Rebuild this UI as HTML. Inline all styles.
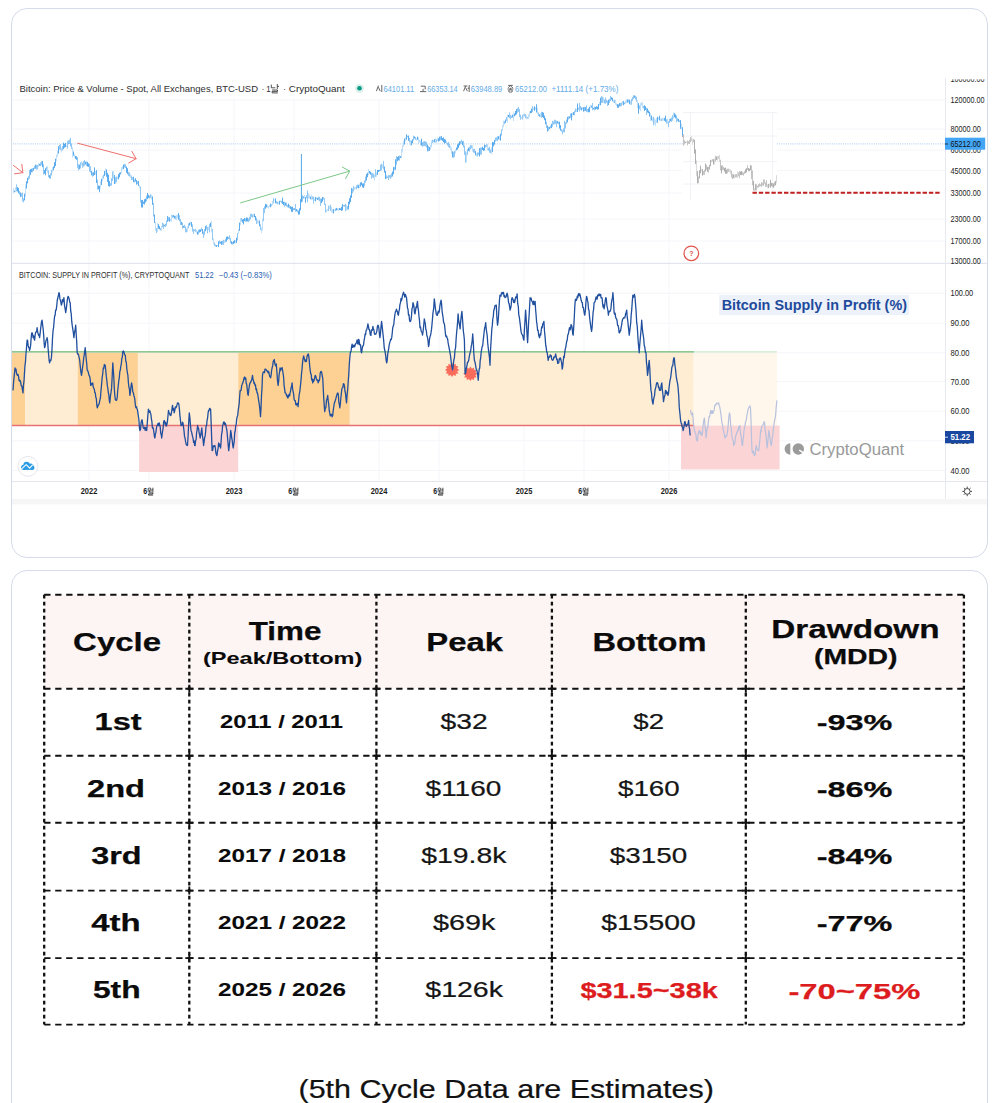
<!DOCTYPE html>
<html><head><meta charset="utf-8"><title>Bitcoin cycle</title>
<style>
html,body{margin:0;padding:0;background:#fff;}
body{width:997px;height:1103px;position:relative;overflow:hidden;font-family:"Liberation Sans",sans-serif;}
.card{position:absolute;left:11px;width:975px;border:1px solid #d5dbe8;border-radius:16px;background:#fff;box-sizing:content-box;}
#c1{top:8px;height:548px;}
#c2{top:570px;height:560px;}
svg{position:absolute;left:0;top:0;}
</style></head><body>
<div class="card" id="c1"></div>
<div class="card" id="c2"></div>
<svg width="997" height="1103" viewBox="0 0 997 1103">
<line x1="12" x2="945" y1="100" y2="100" stroke="#f5f6fa" stroke-width="1"/>
<line x1="12" x2="945" y1="129" y2="129" stroke="#f5f6fa" stroke-width="1"/>
<line x1="12" x2="945" y1="150" y2="150" stroke="#f5f6fa" stroke-width="1"/>
<line x1="12" x2="945" y1="170.5" y2="170.5" stroke="#f5f6fa" stroke-width="1"/>
<line x1="12" x2="945" y1="193" y2="193" stroke="#f5f6fa" stroke-width="1"/>
<line x1="12" x2="945" y1="219" y2="219" stroke="#f5f6fa" stroke-width="1"/>
<line x1="12" x2="945" y1="241" y2="241" stroke="#f5f6fa" stroke-width="1"/>
<line x1="12" x2="945" y1="293.3" y2="293.3" stroke="#f5f6fa" stroke-width="1"/>
<line x1="12" x2="945" y1="323.2" y2="323.2" stroke="#f5f6fa" stroke-width="1"/>
<line x1="12" x2="945" y1="352.8" y2="352.8" stroke="#f5f6fa" stroke-width="1"/>
<line x1="12" x2="945" y1="381.6" y2="381.6" stroke="#f5f6fa" stroke-width="1"/>
<line x1="12" x2="945" y1="411.2" y2="411.2" stroke="#f5f6fa" stroke-width="1"/>
<line x1="12" x2="945" y1="440.8" y2="440.8" stroke="#f5f6fa" stroke-width="1"/>
<line x1="12" x2="945" y1="470.6" y2="470.6" stroke="#f5f6fa" stroke-width="1"/>
<line x1="89" x2="89" y1="98" y2="481" stroke="#f5f6fa" stroke-width="1"/>
<line x1="149" x2="149" y1="98" y2="481" stroke="#f5f6fa" stroke-width="1"/>
<line x1="234" x2="234" y1="98" y2="481" stroke="#f5f6fa" stroke-width="1"/>
<line x1="294" x2="294" y1="98" y2="481" stroke="#f5f6fa" stroke-width="1"/>
<line x1="379" x2="379" y1="98" y2="481" stroke="#f5f6fa" stroke-width="1"/>
<line x1="439" x2="439" y1="98" y2="481" stroke="#f5f6fa" stroke-width="1"/>
<line x1="524" x2="524" y1="98" y2="481" stroke="#f5f6fa" stroke-width="1"/>
<line x1="584" x2="584" y1="98" y2="481" stroke="#f5f6fa" stroke-width="1"/>
<line x1="669" x2="669" y1="98" y2="481" stroke="#f5f6fa" stroke-width="1"/>
<rect x="12.0" y="352.9" width="13.0" height="72.1" fill="#fdd193" />
<rect x="25.0" y="352.9" width="52.7" height="72.1" fill="#feecd3" />
<rect x="77.7" y="352.9" width="60.2" height="72.1" fill="#fdd193" />
<rect x="137.9" y="352.9" width="100.3" height="72.1" fill="#feecd3" />
<rect x="238.2" y="352.9" width="111.6" height="72.1" fill="#fdd193" />
<rect x="349.8" y="352.9" width="343.8" height="72.1" fill="#feecd3" />
<rect x="693.6" y="352.9" width="83.4" height="72.1" fill="#fff7ec" />
<rect x="139.1" y="425.5" width="99.1" height="46.5" fill="#fbd5d5" />
<rect x="681.0" y="425.5" width="98.6" height="44.0" fill="#fbd5d5" />
<line x1="12" x2="694" y1="351.8" y2="351.8" stroke="#6db56d" stroke-width="1.3"/>
<line x1="694" x2="777" y1="351.8" y2="351.8" stroke="#cfe8cf" stroke-width="1.3"/>
<line x1="12" x2="694" y1="425.5" y2="425.5" stroke="#e57373" stroke-width="1.3"/>
<line x1="12" x2="987" y1="263.4" y2="263.4" stroke="#e3e6ee" stroke-width="1.2"/>
<line x1="12" x2="987" y1="481.5" y2="481.5" stroke="#e3e6ee" stroke-width="1"/>
<line x1="945.5" x2="945.5" y1="78" y2="499" stroke="#e6e9f0" stroke-width="1"/>
<rect x="12" y="498.9" width="975" height="5.5" fill="#f6f6f7"/>
<rect x="682" y="105" width="95" height="93.5" fill="#fff"/>
<g stroke="#f1f2f5" stroke-width="1" fill="none"><line x1="690.5" x2="690.5" y1="113" y2="200"/><line x1="772.6" x2="772.6" y1="113" y2="193"/><line x1="683" x2="777" y1="112.6" y2="112.6"/><line x1="683" x2="777" y1="136" y2="136"/><line x1="683" x2="777" y1="161.7" y2="161.7"/><line x1="683" x2="777" y1="184" y2="184"/></g>
<line x1="13" x2="683" y1="143.9" y2="143.9" stroke="#9dc3ea" stroke-width="0.9" stroke-dasharray="1 1.2"/>
<line x1="777" x2="945" y1="143.9" y2="143.9" stroke="#9dc3ea" stroke-width="0.9" stroke-dasharray="1 1.2"/>
<path d="M13.5 188.5V193.1M15.5 187.3V192.1M25.5 184.4V196.9M38.5 163.3V167.1M47.5 166.3V172.7M52.5 167.3V172.7M56.5 154.6V161.2M57.5 150.7V156.8M61.5 147.5V152.4M66.5 145.5V147.0M72.5 147.2V157.6M74.5 154.1V157.7M81.5 161.2V165.3M95.5 171.1V174.6M100.5 181.1V188.4M102.5 175.7V181.3M105.5 168.3V174.8M113.5 171.4V178.8M117.5 176.6V179.3M121.5 167.2V173.3M122.5 166.1V169.6M130.5 174.2V177.8M139.5 185.0V188.1M151.5 194.8V199.5M155.5 221.9V230.8M157.5 223.1V231.9M161.5 225.8V230.6M170.5 218.8V221.3M171.5 214.7V221.4M176.5 215.1V220.4M177.5 214.6V217.9M187.5 226.3V231.9M190.5 221.4V225.1M196.5 229.8V233.4M208.5 226.6V230.4M211.5 220.9V232.2M213.5 238.2V244.4M217.5 244.8V246.1M224.5 240.0V243.1M235.5 240.1V243.3M238.5 229.2V233.8M240.5 218.0V225.2M253.5 213.8V217.1M257.5 219.7V223.3M258.5 220.4V223.5M261.5 227.2V233.1M262.5 218.7V230.7M267.5 204.7V207.7M268.5 206.2V208.6M269.5 205.1V207.4M272.5 200.8V205.4M274.5 199.3V200.6M278.5 202.2V204.2M304.5 194.9V198.6M308.5 193.2V198.9M309.5 194.3V198.6M311.5 194.6V199.9M314.5 198.5V200.9M326.5 209.4V212.5M327.5 208.8V210.8M329.5 205.6V209.1M331.5 206.9V211.9M332.5 209.2V213.2M334.5 209.3V210.7M338.5 208.3V210.5M346.5 204.8V210.5M354.5 186.8V189.9M355.5 187.1V188.9M359.5 183.6V188.1M368.5 169.1V175.3M374.5 174.5V180.5M376.5 172.1V176.7M382.5 164.3V168.1M401.5 148.8V158.2M402.5 144.9V152.5M403.5 140.9V146.7M405.5 137.3V141.3M410.5 140.0V145.6M416.5 138.4V140.8M418.5 137.2V143.9M419.5 139.7V142.4M420.5 140.4V145.3M430.5 144.9V149.7M431.5 140.5V147.3M435.5 138.4V143.0M437.5 137.6V141.3M446.5 141.0V144.2M450.5 145.9V150.2M451.5 147.5V153.9M455.5 149.3V153.6M466.5 151.6V162.2M472.5 145.2V151.6M476.5 153.2V156.4M487.5 144.0V150.3M491.5 147.2V154.2M499.5 135.5V140.2M502.5 125.2V130.7M503.5 120.6V127.1M507.5 114.8V122.8M513.5 112.6V121.0M521.5 116.8V118.7M523.5 113.9V117.4M526.5 115.3V119.3M528.5 114.4V119.2M529.5 111.5V117.1M533.5 107.7V109.9M535.5 107.2V109.8M537.5 107.7V114.1M540.5 113.1V117.1M572.5 112.8V116.7M576.5 108.6V112.1M582.5 107.0V109.7M590.5 104.8V107.9M599.5 101.8V105.7M603.5 97.0V103.0M613.5 99.9V102.9M615.5 100.1V104.6M616.5 103.3V106.0M622.5 101.0V104.8M625.5 100.6V104.1M626.5 99.5V103.1M630.5 100.9V104.8M637.5 100.5V108.2M640.5 102.9V111.2M641.5 102.2V105.7M642.5 102.3V108.0M650.5 113.1V121.0M652.5 117.5V121.6M654.5 118.2V124.4M655.5 119.7V126.1M656.5 117.9V122.9M658.5 117.4V119.6M660.5 118.3V120.7M662.5 117.7V121.1M663.5 118.2V120.4M667.5 118.7V124.1M673.5 112.4V118.8M681.5 123.5V129.3" fill="none" stroke="#4aa3ec" stroke-width="1" stroke-opacity="0.35"/>
<path d="M16.5 184.3V191.3M19.5 191.1V194.7M21.5 193.3V196.8M22.5 192.6V201.5M23.5 198.3V202.5M28.5 175.9V180.0M29.5 170.1V178.7M32.5 168.2V172.2M34.5 165.8V169.0M36.5 164.8V169.5M37.5 165.0V169.5M40.5 162.2V166.2M41.5 161.3V165.3M43.5 164.1V174.6M46.5 166.7V170.7M48.5 170.3V177.2M50.5 173.2V179.1M51.5 169.8V175.5M59.5 145.0V149.6M60.5 144.0V150.2M62.5 146.0V150.6M67.5 140.9V148.7M68.5 140.3V144.1M69.5 139.6V144.0M70.5 137.7V146.5M71.5 143.4V148.8M77.5 157.2V168.2M78.5 164.1V170.5M80.5 162.3V168.5M82.5 162.7V167.7M83.5 161.3V166.6M84.5 159.9V165.7M86.5 161.3V166.0M89.5 163.9V171.6M90.5 166.3V172.5M92.5 172.2V176.7M97.5 179.6V189.5M103.5 174.7V178.6M110.5 183.2V185.8M111.5 178.2V185.7M112.5 171.3V180.9M115.5 177.3V183.6M116.5 176.5V182.2M124.5 163.9V167.6M125.5 164.4V168.1M128.5 171.9V176.1M129.5 172.5V176.5M131.5 175.6V180.1M132.5 177.2V179.7M134.5 179.6V182.5M137.5 181.3V184.3M140.5 186.6V202.6M146.5 195.7V201.4M149.5 195.6V198.4M150.5 194.2V198.1M153.5 202.9V216.6M156.5 228.0V233.0M160.5 228.1V230.5M162.5 222.6V227.3M163.5 223.6V228.9M165.5 223.8V227.0M166.5 220.6V225.8M168.5 216.9V221.2M172.5 215.1V218.0M175.5 215.7V219.3M179.5 215.2V221.5M180.5 219.1V224.9M182.5 222.7V228.6M184.5 224.8V228.2M185.5 226.4V232.4M186.5 228.6V232.2M188.5 223.4V228.3M192.5 224.4V231.6M193.5 228.9V233.9M194.5 229.5V231.2M195.5 228.8V231.8M198.5 229.5V234.5M201.5 227.6V230.9M203.5 231.6V238.0M204.5 229.0V235.2M206.5 225.1V229.5M207.5 226.9V233.4M209.5 223.8V232.4M212.5 228.9V240.1M214.5 242.5V245.9M215.5 244.5V246.6M219.5 240.4V244.0M222.5 240.8V244.7M223.5 239.8V245.0M225.5 238.8V242.3M228.5 236.8V239.1M229.5 235.4V239.5M230.5 238.0V243.1M232.5 242.0V244.6M237.5 233.0V240.4M241.5 218.0V221.5M245.5 218.3V221.8M248.5 218.5V222.1M249.5 216.8V221.1M250.5 213.7V219.4M251.5 213.8V217.1M252.5 214.5V217.5M256.5 217.8V224.0M260.5 224.3V230.2M263.5 208.1V221.2M264.5 206.3V213.2M271.5 204.4V206.2M273.5 198.2V203.4M276.5 201.0V203.7M277.5 201.5V204.3M280.5 200.7V202.0M281.5 200.9V203.1M284.5 201.7V206.8M286.5 202.6V206.5M287.5 204.8V207.4M289.5 205.1V208.3M293.5 208.2V210.2M295.5 204.0V211.7M297.5 209.6V212.4M302.5 195.2V201.7M306.5 195.1V198.3M307.5 190.4V202.2M312.5 196.4V199.4M313.5 196.7V203.6M316.5 197.6V199.2M318.5 196.6V200.3M319.5 196.9V201.3M320.5 198.6V206.0M323.5 197.3V199.6M324.5 198.2V204.9M325.5 203.7V212.4M328.5 205.7V211.1M330.5 204.7V211.1M335.5 208.4V211.3M337.5 208.5V210.2M343.5 205.0V206.4M345.5 203.8V211.2M347.5 206.0V209.8M352.5 188.5V193.3M353.5 186.1V191.5M356.5 185.4V189.4M357.5 184.6V188.0M364.5 180.4V186.3M365.5 176.5V182.7M371.5 172.6V178.8M372.5 173.1V177.4M373.5 173.6V178.1M375.5 169.3V176.8M380.5 164.7V171.0M381.5 163.7V170.4M383.5 161.0V169.4M386.5 175.3V178.7M387.5 176.3V178.0M388.5 175.1V180.0M389.5 175.1V177.7M390.5 174.7V178.7M391.5 173.2V177.5M394.5 166.8V170.1M396.5 156.2V164.9M399.5 155.6V160.6M407.5 135.7V137.4M409.5 137.8V142.3M413.5 135.7V140.6M415.5 137.0V139.9M422.5 142.1V146.7M423.5 141.6V146.1M424.5 141.1V146.1M425.5 141.4V146.3M426.5 141.9V147.5M428.5 146.0V151.4M432.5 139.7V143.2M433.5 140.3V142.0M436.5 139.4V142.4M440.5 136.3V140.3M447.5 142.7V145.5M448.5 142.0V147.2M449.5 143.9V148.0M453.5 151.7V157.8M454.5 151.0V157.1M460.5 141.0V144.2M461.5 139.7V143.6M463.5 140.8V147.5M464.5 145.5V154.9M465.5 151.3V162.8M467.5 148.9V155.1M469.5 146.7V151.7M470.5 145.1V149.5M471.5 145.3V148.3M473.5 148.9V152.5M474.5 148.8V153.1M477.5 152.3V156.4M478.5 152.5V155.1M480.5 147.6V154.6M481.5 147.5V154.6M485.5 145.0V147.5M486.5 144.5V147.1M488.5 147.7V150.7M489.5 146.9V152.7M490.5 149.6V153.0M495.5 137.5V141.6M496.5 137.3V140.7M497.5 136.3V141.2M501.5 129.3V135.6M504.5 121.1V124.2M506.5 116.9V120.9M509.5 112.4V118.1M510.5 114.9V119.3M511.5 115.7V117.9M517.5 108.2V112.7M518.5 106.9V111.9M519.5 109.0V117.0M520.5 114.7V119.8M522.5 114.8V119.6M524.5 113.8V116.2M525.5 114.1V118.3M527.5 116.9V118.7M532.5 106.1V112.1M538.5 112.5V116.1M541.5 111.8V117.8M546.5 121.9V127.9M548.5 126.8V130.8M550.5 125.6V128.2M552.5 120.8V126.6M553.5 121.4V124.5M554.5 119.7V124.3M555.5 119.9V123.9M556.5 120.7V127.2M558.5 121.8V124.2M561.5 129.2V131.6M562.5 130.0V134.3M563.5 128.4V132.2M564.5 120.8V132.4M565.5 122.1V128.4M566.5 119.5V123.9M568.5 116.4V119.5M570.5 113.6V117.8M574.5 110.8V115.3M575.5 108.6V112.2M578.5 107.7V109.6M579.5 102.9V111.5M580.5 106.0V109.6M584.5 106.9V111.2M586.5 105.4V112.2M587.5 109.1V111.8M592.5 103.0V110.3M594.5 106.8V110.3M601.5 96.0V103.1M602.5 96.7V102.8M604.5 99.6V103.5M605.5 97.5V103.7M606.5 99.7V102.8M607.5 100.7V105.9M609.5 98.8V102.9M610.5 96.1V101.2M614.5 99.7V103.1M620.5 102.9V106.5M621.5 102.5V105.9M624.5 102.3V104.2M628.5 99.6V102.5M631.5 98.9V104.7M632.5 97.1V100.8M633.5 95.2V99.0M635.5 95.8V99.5M636.5 96.7V101.7M639.5 105.4V109.2M643.5 105.9V108.5M646.5 107.9V115.0M653.5 116.7V125.4M661.5 118.6V121.0M666.5 119.3V123.5M668.5 121.3V127.1M669.5 118.9V122.8M671.5 117.5V121.9M672.5 115.2V120.7M676.5 115.4V122.3M677.5 118.2V121.0M679.5 120.4V122.1" fill="none" stroke="#4aa3ec" stroke-width="1" stroke-opacity="0.6"/>
<path d="M14.5 190.7V192.1M17.5 187.1V191.5M18.5 187.9V193.4M20.5 192.4V196.9M24.5 193.7V200.4M26.5 181.2V188.6M27.5 177.8V183.4M30.5 169.2V174.9M31.5 168.8V172.2M33.5 167.9V170.8M35.5 164.7V168.7M39.5 163.8V165.7M42.5 161.0V167.2M44.5 170.1V173.7M45.5 168.2V175.2M49.5 175.1V178.2M53.5 166.4V170.3M54.5 162.2V168.1M55.5 158.7V166.0M58.5 146.2V153.6M63.5 142.6V149.1M64.5 143.9V147.7M65.5 142.9V147.1M73.5 151.5V155.7M75.5 155.9V158.9M76.5 156.4V159.8M79.5 164.7V169.2M85.5 161.7V164.5M87.5 161.9V166.6M88.5 163.3V166.9M91.5 170.9V175.3M93.5 172.3V175.8M94.5 167.4V175.0M96.5 170.1V183.0M98.5 185.6V189.4M99.5 185.8V192.2M101.5 178.8V185.1M104.5 171.0V176.1M106.5 169.4V176.8M107.5 172.9V181.9M108.5 174.7V186.1M109.5 180.9V186.7M114.5 175.1V184.1M118.5 174.1V179.4M119.5 172.7V177.4M120.5 172.3V174.5M123.5 164.5V169.1M126.5 166.5V172.7M127.5 168.2V174.2M133.5 176.7V182.2M135.5 178.2V181.5M136.5 180.1V184.6M138.5 181.0V186.0M141.5 200.1V207.5M142.5 199.9V207.5M143.5 201.7V203.9M144.5 199.3V204.5M145.5 198.6V202.4M147.5 193.0V199.2M148.5 194.8V198.0M152.5 196.4V204.8M154.5 214.5V223.0M158.5 224.2V228.8M159.5 226.1V229.4M164.5 224.8V226.4M167.5 216.1V221.8M169.5 217.3V221.7M173.5 215.1V217.2M174.5 215.9V218.5M178.5 213.1V219.8M181.5 221.9V224.9M183.5 225.9V227.8M189.5 222.7V225.5M191.5 222.0V226.8M197.5 231.5V234.7M199.5 229.6V232.5M200.5 229.4V232.0M202.5 229.1V233.9M205.5 225.9V231.3M210.5 222.7V227.0M216.5 245.0V246.9M218.5 241.4V247.0M220.5 241.7V243.6M221.5 241.1V244.8M226.5 236.8V241.6M227.5 236.4V239.6M231.5 241.3V244.2M233.5 241.0V243.9M234.5 240.2V243.2M236.5 237.6V242.9M239.5 222.6V230.9M242.5 219.4V222.6M243.5 219.1V224.4M244.5 218.0V221.1M246.5 217.5V221.6M247.5 217.7V221.4M254.5 213.9V217.3M255.5 216.0V220.4M259.5 220.6V226.3M265.5 203.8V208.8M266.5 204.4V207.4M270.5 203.6V207.2M275.5 198.5V203.3M279.5 200.8V204.7M282.5 197.7V204.0M283.5 201.7V205.2M285.5 202.6V205.7M288.5 203.6V207.6M290.5 206.2V209.1M291.5 206.9V211.9M292.5 206.6V211.9M294.5 208.3V210.0M296.5 209.0V211.3M298.5 210.6V214.6M299.5 208.3V214.4M300.5 199.2V210.4M301.5 195.6V202.4M303.5 196.5V198.4M305.5 197.1V202.8M310.5 196.6V199.2M315.5 197.0V201.3M317.5 197.8V199.9M321.5 198.7V203.1M322.5 197.0V201.6M333.5 209.2V213.4M336.5 207.9V210.4M339.5 207.9V210.1M340.5 208.4V210.0M341.5 206.8V211.0M342.5 204.1V210.4M344.5 205.2V206.5M348.5 201.7V209.4M349.5 198.3V204.3M350.5 195.4V202.1M351.5 188.1V197.8M358.5 184.9V188.3M360.5 182.4V186.6M361.5 182.2V185.2M362.5 183.4V187.3M363.5 183.4V188.0M366.5 174.0V180.6M367.5 172.7V177.2M369.5 171.0V173.5M370.5 171.7V174.8M377.5 170.0V175.0M378.5 170.0V172.0M379.5 169.9V171.2M384.5 166.6V172.6M385.5 170.9V178.9M392.5 171.6V176.5M393.5 167.1V174.3M395.5 159.3V169.8M397.5 157.0V161.3M398.5 156.1V160.3M400.5 156.1V158.0M404.5 138.5V144.5M406.5 134.4V139.7M408.5 135.5V140.8M411.5 140.8V145.3M412.5 139.3V143.2M414.5 136.4V138.6M417.5 136.6V139.8M421.5 138.7V145.6M427.5 144.7V151.3M429.5 147.0V150.8M434.5 139.1V142.4M438.5 138.4V141.4M439.5 136.7V140.8M441.5 136.2V140.1M442.5 138.0V140.9M443.5 137.3V142.3M444.5 139.0V143.6M445.5 139.7V142.9M452.5 151.3V157.4M456.5 147.5V150.4M457.5 144.4V149.6M458.5 143.4V147.9M459.5 141.3V145.5M462.5 141.4V145.2M468.5 147.7V151.1M475.5 151.1V155.3M479.5 148.1V156.5M482.5 146.7V150.0M483.5 147.9V150.9M484.5 144.6V150.5M492.5 141.9V152.2M493.5 142.4V146.3M494.5 139.9V144.6M498.5 136.2V139.4M500.5 133.7V140.6M505.5 119.5V123.0M508.5 114.9V117.2M512.5 114.7V117.6M514.5 113.5V116.4M515.5 111.0V115.4M516.5 109.1V114.4M530.5 110.9V113.2M531.5 108.6V113.0M534.5 106.3V110.8M536.5 104.3V112.5M539.5 114.4V116.7M542.5 112.1V117.0M543.5 112.7V118.1M544.5 115.6V120.2M545.5 118.1V124.3M547.5 125.6V131.5M549.5 126.9V129.1M551.5 123.8V128.1M557.5 121.1V123.5M559.5 121.7V128.6M560.5 125.2V130.6M567.5 116.8V122.4M569.5 116.3V118.5M571.5 113.1V120.4M573.5 112.0V115.1M577.5 103.5V112.0M581.5 107.5V110.4M583.5 107.2V111.7M585.5 107.1V110.9M588.5 108.4V112.4M589.5 106.8V112.2M591.5 105.6V107.6M593.5 107.7V109.4M595.5 106.8V109.7M596.5 106.3V108.9M597.5 106.7V109.6M598.5 104.0V109.4M600.5 97.7V105.3M608.5 99.7V105.0M611.5 97.2V99.6M612.5 97.8V101.4M617.5 104.1V107.8M618.5 104.5V107.7M619.5 103.0V106.4M623.5 101.1V105.2M627.5 99.4V102.6M629.5 99.6V104.2M634.5 95.5V97.8M638.5 103.2V113.8M644.5 105.3V110.9M645.5 106.3V110.0M647.5 108.4V112.6M648.5 110.5V113.2M649.5 111.8V116.6M651.5 115.5V120.4M657.5 116.9V122.7M659.5 115.8V120.4M664.5 117.9V120.8M665.5 115.7V121.8M670.5 118.7V121.3M674.5 113.2V117.3M675.5 114.4V118.3M678.5 118.8V121.9M680.5 120.1V128.8M682.5 127.2V135.7" fill="none" stroke="#4aa3ec" stroke-width="1" stroke-opacity="0.9"/>
<line x1="301.4" x2="301.4" y1="154" y2="200" stroke="#52a7ea" stroke-width="1"/>
<path d="M686.5 141.5V143.3M691.5 136.4V141.5M692.5 138.7V144.9M696.5 160.5V176.1M701.5 168.8V171.3M711.5 159.7V162.3M714.5 158.4V164.5M717.5 156.0V160.7M719.5 154.9V161.9M729.5 169.3V172.3M730.5 169.4V173.8M734.5 174.4V178.6M737.5 171.6V178.0M754.5 188.3V191.2M767.5 184.3V188.0M769.5 183.7V186.7M776.5 175.1V183.1" fill="none" stroke="#a2a2a2" stroke-width="1" stroke-opacity="0.4"/>
<path d="M683.5 134.2V145.7M684.5 140.2V144.5M687.5 140.5V145.3M688.5 141.1V143.9M689.5 139.6V144.1M690.5 137.2V142.1M693.5 138.9V142.3M698.5 176.5V183.2M703.5 171.1V174.9M704.5 169.8V174.9M706.5 164.9V170.0M708.5 167.0V172.6M712.5 159.2V161.4M715.5 155.9V161.6M718.5 156.2V158.9M720.5 159.8V170.5M722.5 165.3V170.2M723.5 166.9V170.2M727.5 168.6V173.2M728.5 168.6V171.9M731.5 170.5V177.6M732.5 173.8V179.2M735.5 174.3V177.4M736.5 174.0V177.4M738.5 172.4V176.2M739.5 171.1V178.2M742.5 171.9V175.1M743.5 172.5V175.6M744.5 171.1V173.9M747.5 165.3V170.0M751.5 165.6V179.1M752.5 170.4V185.4M756.5 184.5V190.3M758.5 184.1V187.4M759.5 183.4V186.7M760.5 184.3V186.2M761.5 181.9V186.9M762.5 182.9V185.6M763.5 179.4V185.9M764.5 179.5V183.7M765.5 182.3V186.9M766.5 180.1V186.9M772.5 183.0V187.0M774.5 182.0V186.2" fill="none" stroke="#a2a2a2" stroke-width="1" stroke-opacity="0.62"/>
<path d="M682.5 135.6V137.1M685.5 141.7V143.1M694.5 139.8V153.6M695.5 149.4V164.1M697.5 171.0V183.3M699.5 170.1V178.4M700.5 165.7V173.4M702.5 169.1V175.7M705.5 163.5V171.5M707.5 166.8V171.8M709.5 164.9V169.6M710.5 159.9V166.2M713.5 159.2V164.6M716.5 156.4V160.0M721.5 165.5V173.5M724.5 167.8V171.7M725.5 167.7V173.7M726.5 169.6V173.9M733.5 174.4V178.1M740.5 171.4V175.1M741.5 171.1V175.1M745.5 169.2V173.1M746.5 168.1V172.4M748.5 168.0V171.2M749.5 168.6V171.1M750.5 165.1V170.2M753.5 180.8V190.4M755.5 184.2V190.4M757.5 185.9V187.4M768.5 184.0V188.1M770.5 179.8V187.7M771.5 182.9V186.2M773.5 183.5V187.8M775.5 180.9V185.4" fill="none" stroke="#a2a2a2" stroke-width="1" stroke-opacity="0.85"/>
<line x1="752.5" x2="940.5" y1="192.8" y2="192.8" stroke="#c0201f" stroke-width="2" stroke-dasharray="4.4 1.9"/>
<path d="M13.4 165.4 L22.9 172.7 M14.6 173.8 L22.9 172.7 L21.8 164.4" fill="none" stroke="#ef6f6c" stroke-width="1.0" stroke-linecap="round" stroke-linejoin="round"/>
<path d="M77.7 143.2 L136.1 158.7 M128.8 162.9 L136.1 158.7 L131.9 151.4" fill="none" stroke="#ef6f6c" stroke-width="1.0" stroke-linecap="round" stroke-linejoin="round"/>
<path d="M240.6 202.8 L349.7 171.1 M345.7 178.5 L349.7 171.1 L342.3 167.1" fill="none" stroke="#7cc887" stroke-width="1.0" stroke-linecap="round" stroke-linejoin="round"/>
<circle cx="691.3" cy="253.3" r="7.3" fill="#fff" stroke="#e0544c" stroke-width="1.25"/>
<text x="691.3" y="256.3" font-family="Liberation Sans, sans-serif" font-size="7" font-weight="bold" fill="#e0544c" text-anchor="middle">?</text>
<polygon points="459.3,369.9 457.2,371.3 458.3,373.5 455.9,373.7 455.7,376.1 453.5,375.0 452.1,377.1 450.7,375.0 448.5,376.1 448.3,373.7 445.9,373.5 447.0,371.3 444.9,369.9 447.0,368.5 445.9,366.3 448.3,366.1 448.5,363.7 450.7,364.8 452.1,362.7 453.5,364.8 455.7,363.7 455.9,366.1 458.3,366.3 457.2,368.5" fill="#f96c5b"/>
<polygon points="477.6,373.8 475.5,375.2 476.6,377.4 474.2,377.6 474.0,380.0 471.8,378.9 470.4,381.0 469.0,378.9 466.8,380.0 466.6,377.6 464.2,377.4 465.3,375.2 463.2,373.8 465.3,372.4 464.2,370.2 466.6,370.0 466.8,367.6 469.0,368.7 470.4,366.6 471.8,368.7 474.0,367.6 474.2,370.0 476.6,370.2 475.5,372.4" fill="#f96c5b"/>
<path d="M13.0 390.4 L13.5 383.2 L14.0 377.6 L14.5 373.1 L15.0 367.8 L15.5 370.4 L16.0 369.2 L16.5 373.3 L17.0 374.6 L17.5 375.3 L18.0 374.4 L18.5 376.1 L19.0 380.2 L19.5 381.1 L20.0 380.3 L20.6 381.7 L21.2 385.7 L21.8 385.9 L22.4 389.4 L23.0 392.9 L23.5 384.8 L24.0 381.2 L24.5 372.9 L25.0 365.3 L25.5 361.6 L26.0 353.5 L26.5 348.0 L27.1 340.2 L27.6 340.2 L28.1 345.5 L28.6 347.1 L29.1 347.9 L29.6 350.3 L30.1 348.3 L30.6 345.7 L31.1 338.8 L31.6 333.5 L32.1 332.7 L32.6 334.1 L33.1 337.6 L33.6 335.8 L34.1 338.7 L34.6 340.2 L35.1 335.5 L35.6 332.3 L36.1 331.9 L36.6 331.9 L37.1 327.7 L37.6 332.0 L38.1 333.5 L38.6 335.3 L39.1 334.8 L39.6 337.7 L40.1 333.7 L40.6 328.8 L41.1 325.2 L41.6 321.3 L42.1 320.2 L42.6 324.7 L43.1 328.5 L43.6 334.1 L44.1 342.4 L44.6 347.7 L45.1 346.3 L45.6 342.6 L46.1 340.0 L46.6 339.8 L47.1 337.7 L47.6 340.5 L48.1 348.5 L48.6 354.5 L49.1 360.3 L49.6 362.8 L50.2 360.2 L50.8 360.6 L51.4 357.8 L52.0 349.1 L52.5 338.2 L53.1 330.2 L53.6 327.4 L54.1 321.2 L54.6 316.2 L55.1 315.4 L55.6 310.1 L56.2 310.0 L56.7 306.2 L57.3 300.0 L57.8 297.8 L58.4 295.8 L58.9 292.6 L59.4 293.8 L59.9 298.9 L60.4 300.1 L60.9 302.7 L61.4 305.1 L61.9 303.6 L62.4 299.6 L62.9 301.7 L63.4 301.3 L63.9 297.6 L64.5 305.3 L65.1 308.7 L65.7 312.6 L66.2 309.3 L66.7 305.2 L67.2 300.9 L67.7 297.6 L68.2 296.3 L68.7 297.5 L69.2 298.9 L69.7 302.0 L70.2 302.6 L70.7 311.0 L71.2 313.4 L71.7 321.2 L72.2 325.2 L72.8 329.1 L73.4 333.2 L73.9 337.7 L74.5 332.5 L75.1 329.7 L75.7 325.2 L76.2 334.2 L76.7 341.7 L77.2 352.8 L77.7 354.2 L78.2 353.9 L78.7 355.7 L79.2 357.9 L79.7 360.3 L80.3 366.7 L80.9 372.1 L81.5 375.3 L82.0 372.1 L82.6 367.1 L83.2 362.8 L83.7 358.0 L84.2 355.0 L84.7 351.3 L85.2 347.7 L85.7 353.4 L86.2 359.0 L86.7 363.3 L87.2 370.3 L87.8 370.8 L88.4 372.7 L89.0 375.3 L89.6 376.2 L90.2 379.3 L90.7 385.4 L91.2 385.1 L91.7 383.4 L92.2 384.3 L92.7 382.9 L93.2 386.8 L93.8 388.2 L94.3 389.1 L94.8 392.6 L95.3 392.9 L95.8 397.4 L96.3 398.3 L96.8 405.0 L97.3 407.9 L97.8 406.5 L98.3 405.0 L98.8 404.5 L99.3 403.1 L99.8 400.4 L100.4 398.0 L100.9 391.8 L101.5 385.4 L102.1 378.2 L102.7 374.0 L103.3 367.8 L103.8 368.5 L104.3 364.5 L104.8 366.2 L105.3 365.3 L105.8 371.0 L106.3 376.4 L106.8 380.2 L107.3 385.4 L107.8 388.0 L108.3 392.5 L108.8 394.5 L109.3 400.5 L109.8 402.9 L110.4 396.5 L111.0 392.7 L111.6 387.9 L112.2 376.0 L112.8 362.8 L113.3 370.1 L113.8 377.0 L114.3 388.6 L114.8 395.4 L115.4 399.9 L116.0 400.2 L116.6 400.4 L117.2 397.4 L117.7 390.7 L118.3 385.4 L118.8 380.6 L119.3 377.6 L119.8 371.6 L120.3 370.3 L120.8 366.1 L121.3 364.1 L121.8 358.6 L122.3 357.3 L122.8 351.5 L123.3 351.0 L123.8 351.4 L124.3 353.8 L124.8 354.9 L125.3 355.3 L125.8 361.5 L126.3 362.2 L126.9 369.4 L127.4 372.8 L127.9 375.5 L128.4 382.8 L128.9 387.3 L129.4 388.7 L129.9 395.4 L130.4 392.5 L131.0 386.4 L131.6 382.9 L132.2 386.0 L132.8 391.7 L133.4 392.9 L133.9 396.0 L134.4 397.0 L134.9 400.2 L135.4 405.4 L135.9 407.5 L136.4 406.8 L136.9 408.5 L137.4 409.6 L137.9 412.9 L138.4 416.5 L138.9 419.6 L139.4 427.8 L139.9 430.5 L140.5 429.7 L141.1 422.6 L141.6 420.5 L142.1 419.8 L142.6 423.1 L143.1 427.2 L143.7 428.5 L144.2 428.0 L144.7 427.3 L145.2 430.3 L145.7 427.6 L146.2 429.4 L146.7 430.5 L147.2 424.4 L147.8 416.2 L148.4 409.2 L148.9 410.7 L149.4 412.3 L149.9 410.8 L150.4 412.9 L150.9 414.5 L151.4 418.8 L151.9 421.6 L152.4 428.0 L152.9 427.5 L153.4 429.0 L153.9 432.2 L154.4 436.5 L154.9 438.0 L155.4 434.0 L155.9 432.4 L156.4 428.3 L156.9 425.8 L157.4 425.5 L158.0 423.3 L158.6 425.6 L159.2 423.0 L159.7 425.0 L160.2 426.8 L160.7 433.1 L161.2 434.5 L161.7 438.0 L162.2 433.9 L162.7 430.5 L163.2 427.3 L163.7 421.5 L164.2 420.5 L164.7 421.6 L165.2 424.5 L165.7 422.4 L166.2 426.1 L166.7 425.5 L167.3 422.4 L167.9 416.7 L168.5 410.4 L169.0 412.8 L169.5 413.0 L170.0 414.8 L170.5 415.5 L171.0 415.2 L171.5 412.5 L172.0 408.8 L172.5 405.4 L173.1 410.1 L173.7 408.7 L174.2 412.9 L174.8 410.4 L175.3 407.0 L175.9 407.8 L176.4 407.0 L177.0 404.9 L177.5 402.9 L178.1 402.9 L178.7 403.5 L179.3 407.9 L179.8 414.4 L180.4 419.9 L181.0 425.5 L181.5 424.9 L182.0 425.2 L182.5 422.2 L183.0 423.0 L183.5 427.0 L184.0 430.6 L184.5 436.4 L185.0 438.0 L185.5 441.2 L186.0 443.7 L186.5 445.1 L187.0 444.1 L187.5 445.5 L188.1 435.7 L188.7 422.6 L189.3 412.9 L189.9 417.8 L190.5 425.2 L191.0 430.5 L191.5 431.7 L192.0 434.0 L192.5 436.4 L193.0 438.0 L193.6 442.4 L194.1 440.8 L194.6 445.4 L195.1 445.5 L195.6 440.5 L196.1 439.7 L196.6 432.7 L197.1 430.1 L197.6 425.5 L198.1 428.7 L198.6 428.2 L199.1 432.7 L199.6 434.6 L200.1 438.0 L200.7 435.1 L201.2 431.8 L201.8 428.0 L202.4 435.5 L203.0 439.4 L203.6 445.5 L204.1 441.8 L204.6 437.8 L205.1 435.9 L205.6 432.0 L206.1 425.5 L206.6 425.5 L207.1 420.1 L207.6 418.0 L208.1 412.9 L208.6 410.5 L209.1 410.6 L209.6 408.3 L210.1 408.8 L210.6 409.2 L211.1 421.6 L211.6 436.4 L212.1 450.6 L212.7 450.2 L213.2 445.8 L213.8 446.6 L214.4 445.5 L214.9 445.7 L215.4 448.4 L215.9 453.1 L216.4 454.6 L216.9 455.6 L217.5 451.4 L218.0 449.1 L218.6 443.0 L219.1 446.4 L219.6 444.1 L220.1 446.1 L220.6 448.0 L221.1 441.5 L221.6 434.2 L222.1 432.0 L222.6 425.5 L223.1 424.2 L223.6 422.1 L224.1 422.0 L224.6 424.3 L225.1 423.0 L225.7 424.3 L226.3 427.7 L226.9 430.5 L227.5 437.1 L228.1 444.0 L228.7 450.6 L229.2 446.9 L229.7 441.9 L230.2 436.7 L230.7 430.5 L231.2 433.2 L231.7 438.0 L232.2 440.3 L232.7 445.2 L233.2 448.0 L233.7 444.7 L234.2 441.7 L234.7 433.0 L235.2 431.2 L235.7 425.5 L236.2 424.4 L236.7 419.0 L237.2 416.8 L237.7 415.4 L238.2 410.4 L238.7 407.2 L239.2 403.1 L239.7 395.5 L240.2 390.4 L240.7 390.7 L241.2 389.7 L241.7 385.4 L242.2 384.2 L242.7 382.9 L243.3 381.5 L243.9 378.4 L244.5 377.0 L245.1 379.4 L245.7 377.8 L246.2 383.4 L246.7 384.1 L247.2 388.6 L247.7 393.8 L248.2 395.4 L248.8 389.7 L249.4 385.5 L250.0 382.9 L250.5 382.6 L251.0 380.8 L251.5 380.9 L252.0 378.3 L252.5 375.3 L253.0 379.1 L253.5 380.6 L254.0 383.4 L254.5 382.8 L255.0 385.4 L255.5 385.0 L256.0 389.8 L256.5 388.9 L257.0 392.9 L257.5 392.9 L258.1 396.7 L258.7 400.9 L259.3 404.5 L259.9 409.5 L260.5 416.7 L261.0 408.1 L261.5 395.5 L262.0 388.0 L262.5 375.3 L263.0 372.6 L263.5 371.8 L264.0 371.9 L264.5 372.7 L265.0 369.1 L265.6 369.1 L266.2 369.9 L266.9 371.0 L267.5 371.0 L268.1 372.8 L268.6 371.3 L269.1 373.5 L269.6 376.2 L270.1 376.8 L270.6 377.8 L271.1 375.1 L271.6 370.5 L272.2 367.4 L272.7 365.7 L273.3 361.2 L273.8 360.3 L274.3 359.5 L274.8 363.3 L275.3 365.1 L275.8 366.0 L276.3 364.0 L276.9 371.8 L277.5 380.6 L278.1 385.4 L278.6 382.0 L279.1 374.9 L279.6 371.7 L280.1 367.8 L280.6 370.5 L281.1 368.6 L281.6 368.5 L282.1 367.5 L282.6 370.3 L283.1 373.5 L283.6 377.0 L284.1 385.5 L284.6 388.9 L285.1 392.9 L285.6 392.9 L286.1 393.8 L286.6 395.9 L287.1 395.3 L287.6 397.9 L288.1 397.8 L288.6 395.2 L289.1 394.5 L289.6 396.0 L290.1 392.9 L290.6 390.8 L291.1 387.3 L291.6 386.6 L292.1 382.9 L292.6 388.9 L293.1 391.6 L293.6 393.8 L294.1 399.2 L294.6 400.4 L295.2 400.6 L295.8 404.5 L296.4 405.0 L297.0 403.4 L297.6 403.7 L298.1 406.7 L298.7 399.3 L299.2 394.6 L299.8 391.6 L300.3 387.0 L300.9 381.4 L301.4 375.3 L302.0 369.3 L302.6 362.1 L303.2 357.8 L303.7 355.8 L304.2 358.3 L304.8 360.3 L305.3 361.7 L305.9 360.0 L306.4 361.5 L307.0 356.8 L307.6 354.8 L308.2 354.0 L308.7 355.6 L309.2 359.9 L309.7 366.0 L310.2 370.3 L310.7 373.6 L311.2 374.4 L311.7 379.9 L312.2 378.9 L312.7 382.9 L313.2 379.8 L313.7 381.4 L314.2 379.8 L314.7 377.3 L315.2 375.3 L315.8 376.2 L316.4 379.2 L317.0 380.3 L317.6 379.9 L318.2 382.9 L318.7 380.5 L319.2 380.8 L319.7 378.8 L320.2 373.3 L320.7 371.6 L321.2 371.5 L321.7 372.3 L322.2 376.0 L322.7 377.8 L323.2 387.4 L323.7 397.4 L324.2 404.9 L324.7 411.7 L325.3 408.3 L325.9 407.6 L326.5 400.3 L327.1 398.6 L327.7 395.4 L328.2 400.8 L328.7 404.1 L329.2 410.2 L329.7 412.9 L330.3 415.9 L330.9 414.8 L331.5 414.3 L332.1 416.8 L332.7 415.5 L333.2 410.6 L333.8 406.5 L334.3 403.3 L334.8 402.1 L335.3 400.4 L335.8 398.7 L336.3 396.8 L336.8 395.1 L337.3 393.5 L337.8 392.9 L338.3 394.5 L338.8 401.9 L339.3 404.0 L339.8 407.9 L340.3 404.1 L340.8 398.3 L341.3 393.7 L341.8 389.3 L342.3 387.9 L342.9 387.3 L343.4 383.7 L344.0 384.1 L344.5 386.4 L345.0 391.5 L345.5 393.3 L346.0 398.5 L346.5 402.9 L347.1 395.0 L347.7 389.0 L348.3 380.3 L348.8 374.3 L349.3 364.4 L349.8 357.8 L350.4 352.0 L351.0 351.8 L351.6 346.5 L352.1 344.2 L352.6 347.4 L353.1 345.4 L353.6 346.8 L354.1 345.2 L354.6 346.8 L355.1 345.3 L355.6 343.7 L356.1 343.1 L356.6 342.7 L357.1 339.9 L357.6 343.4 L358.1 344.2 L358.6 339.4 L359.1 340.2 L359.6 344.8 L360.1 344.5 L360.6 345.2 L361.1 351.6 L361.6 352.8 L362.1 349.2 L362.6 346.2 L363.1 346.2 L363.6 344.3 L364.1 340.2 L364.6 337.9 L365.1 334.0 L365.6 334.8 L366.1 330.3 L366.6 330.2 L367.2 327.9 L367.9 323.9 L368.4 326.2 L368.9 329.4 L369.4 329.3 L369.9 332.2 L370.4 335.2 L370.9 335.4 L371.4 330.3 L371.9 329.6 L372.4 330.2 L372.9 326.4 L373.4 329.0 L373.9 329.7 L374.4 333.5 L374.9 334.4 L375.4 334.0 L375.9 334.0 L376.4 332.6 L376.9 330.8 L377.4 326.5 L377.9 325.2 L378.4 325.9 L378.9 328.5 L379.4 333.8 L379.9 337.7 L380.5 333.3 L381.1 325.6 L381.6 321.4 L382.1 325.8 L382.6 330.3 L383.1 335.3 L383.7 340.7 L384.2 347.7 L384.7 350.0 L385.2 352.2 L385.7 356.2 L386.2 360.6 L386.7 362.8 L387.2 360.3 L387.7 354.1 L388.2 351.3 L388.7 348.6 L389.2 345.2 L389.7 342.6 L390.2 341.2 L390.7 339.2 L391.2 339.6 L391.7 337.7 L392.2 333.5 L392.7 328.2 L393.2 326.0 L393.7 325.0 L394.2 320.2 L394.8 315.5 L395.4 311.7 L395.9 311.4 L396.4 309.1 L396.9 310.5 L397.4 311.7 L397.9 314.5 L398.4 315.2 L398.9 311.4 L399.4 309.6 L399.9 304.7 L400.5 302.6 L401.0 298.5 L401.5 300.5 L402.0 298.1 L402.5 295.6 L403.0 293.8 L403.6 292.1 L404.2 294.6 L404.8 297.2 L405.4 294.5 L406.0 296.3 L406.5 297.6 L407.0 302.8 L407.5 308.1 L408.0 309.2 L408.5 315.2 L409.0 314.5 L409.5 320.0 L410.0 321.5 L410.5 321.4 L411.0 319.6 L411.5 315.9 L412.0 308.6 L412.5 307.4 L413.0 302.6 L413.5 304.5 L414.0 306.6 L414.5 312.8 L415.0 313.9 L415.5 310.8 L416.0 307.0 L416.5 307.5 L417.0 303.7 L417.5 301.4 L418.0 308.2 L418.5 310.7 L419.0 316.5 L419.5 320.6 L420.0 327.7 L420.5 326.8 L421.0 330.2 L421.5 331.7 L422.0 332.2 L422.5 335.2 L423.1 331.4 L423.7 325.6 L424.3 318.9 L424.8 321.4 L425.3 323.3 L425.8 329.6 L426.3 330.2 L426.8 335.2 L427.4 337.0 L428.0 340.4 L428.5 346.5 L429.0 344.9 L429.5 339.3 L430.0 336.7 L430.5 335.5 L431.0 332.7 L431.5 329.4 L432.0 324.4 L432.5 318.5 L433.0 312.6 L433.7 308.2 L434.3 298.9 L434.8 302.5 L435.3 307.8 L435.8 310.8 L436.3 314.2 L436.8 315.2 L437.3 315.3 L437.8 313.0 L438.3 311.2 L438.8 312.8 L439.3 311.4 L439.9 305.9 L440.5 302.6 L441.1 300.1 L441.6 304.4 L442.1 311.3 L442.6 314.6 L443.1 317.7 L443.6 322.4 L444.1 323.2 L444.6 325.4 L445.1 330.5 L445.6 335.2 L446.1 336.8 L446.6 336.0 L447.1 338.0 L447.6 338.8 L448.1 342.7 L448.6 345.4 L449.1 348.0 L449.6 350.3 L450.1 353.4 L450.6 356.5 L451.1 360.8 L451.6 365.3 L452.1 367.3 L452.6 369.8 L453.2 365.9 L453.8 360.1 L454.4 358.0 L455.0 350.2 L455.6 347.7 L456.1 339.2 L456.6 332.8 L457.1 327.9 L457.6 322.0 L458.1 313.9 L458.6 319.9 L459.1 323.1 L459.6 325.5 L460.1 328.9 L460.7 321.1 L461.3 315.9 L461.9 311.4 L462.4 317.5 L462.9 324.7 L463.4 331.6 L463.9 335.0 L464.4 340.2 L465.1 373.8 L465.7 372.9 L466.3 368.5 L466.9 366.1 L467.5 362.1 L468.1 362.0 L468.7 360.3 L469.2 356.8 L469.7 354.5 L470.2 352.2 L470.7 350.3 L471.2 346.6 L471.7 344.2 L472.2 340.5 L472.7 334.0 L473.3 342.5 L473.8 352.9 L474.4 360.3 L474.9 361.9 L475.4 364.0 L475.9 367.3 L476.4 369.8 L476.9 370.3 L477.6 374.2 L478.2 380.3 L478.7 373.5 L479.2 369.1 L479.7 368.1 L480.2 360.4 L480.7 357.8 L481.2 351.9 L481.7 349.2 L482.2 346.4 L482.7 345.8 L483.2 340.2 L483.7 336.3 L484.2 331.3 L484.7 327.4 L485.2 326.2 L485.7 322.7 L486.2 328.8 L486.7 332.3 L487.2 335.4 L487.7 342.9 L488.2 347.7 L488.8 352.4 L489.4 356.8 L490.0 365.3 L490.6 349.1 L491.3 337.7 L491.8 329.2 L492.3 325.4 L492.8 319.0 L493.3 316.4 L493.8 310.1 L494.3 309.4 L494.8 306.3 L495.3 305.4 L495.8 305.7 L496.3 305.1 L496.9 317.5 L497.5 325.2 L498.0 322.3 L498.5 316.5 L499.0 307.6 L499.5 299.7 L500.0 295.1 L500.5 295.8 L501.0 296.1 L501.5 292.9 L502.0 292.7 L502.5 293.8 L503.0 292.3 L503.5 292.3 L504.0 296.3 L504.5 295.4 L505.0 297.6 L505.5 297.1 L506.0 297.0 L506.5 294.9 L507.1 293.2 L507.6 295.1 L508.1 298.4 L508.6 303.0 L509.1 303.4 L509.6 306.8 L510.1 310.1 L510.6 308.3 L511.1 306.2 L511.6 299.5 L512.1 297.6 L512.6 298.6 L513.1 299.7 L513.6 302.4 L514.1 300.1 L514.6 302.6 L515.1 300.2 L515.6 297.6 L516.1 296.6 L516.6 297.8 L517.1 293.8 L517.7 303.7 L518.3 306.4 L518.8 315.2 L519.3 316.8 L519.8 320.8 L520.3 324.8 L520.8 329.7 L521.3 332.7 L521.8 334.0 L522.3 334.8 L522.8 335.6 L523.4 338.9 L523.9 340.2 L524.4 330.4 L525.0 320.5 L525.6 310.1 L526.1 317.4 L526.6 326.0 L527.1 335.5 L527.6 342.7 L528.1 333.8 L528.6 322.3 L529.1 315.8 L529.6 306.5 L530.1 297.6 L530.6 299.0 L531.1 298.1 L531.6 300.7 L532.1 301.5 L532.6 302.6 L533.1 304.6 L533.6 301.1 L534.1 303.8 L534.6 304.6 L535.1 301.4 L535.6 309.5 L536.1 315.2 L536.6 322.0 L537.1 325.2 L537.6 330.4 L538.1 330.1 L538.6 334.5 L539.1 336.7 L539.6 337.7 L540.2 334.0 L540.7 335.2 L541.2 330.6 L541.7 326.9 L542.2 327.7 L542.7 324.3 L543.3 322.9 L543.9 321.4 L544.5 331.3 L545.1 337.1 L545.7 345.2 L546.2 347.5 L546.7 352.1 L547.2 352.5 L547.7 356.9 L548.2 360.3 L548.7 357.2 L549.2 356.6 L549.7 357.0 L550.2 354.8 L550.7 355.3 L551.2 355.5 L551.7 359.2 L552.2 360.0 L552.7 360.3 L553.3 359.6 L553.9 356.8 L554.5 357.5 L555.1 356.2 L555.7 354.0 L556.2 357.1 L556.7 359.6 L557.2 359.2 L557.7 363.4 L558.2 362.8 L558.7 363.0 L559.2 358.9 L559.7 359.5 L560.2 357.8 L560.7 358.8 L561.2 361.2 L561.7 363.2 L562.2 369.1 L562.7 366.9 L563.2 361.5 L563.7 356.5 L564.2 357.7 L564.7 352.8 L565.2 349.2 L565.7 347.6 L566.2 344.5 L566.7 341.3 L567.2 340.2 L567.8 334.8 L568.4 333.9 L569.0 330.2 L569.5 327.6 L570.0 329.8 L570.5 329.2 L571.0 324.6 L571.5 325.2 L572.1 327.4 L572.7 333.5 L573.2 335.2 L573.8 326.0 L574.3 317.0 L574.8 306.4 L575.3 300.1 L575.8 299.1 L576.3 300.5 L576.8 299.2 L577.3 296.1 L577.8 297.6 L578.3 294.4 L578.8 293.5 L579.3 295.7 L579.8 293.8 L580.3 295.9 L580.8 298.4 L581.3 300.8 L581.8 302.2 L582.3 302.6 L582.8 307.4 L583.3 307.3 L583.8 310.2 L584.3 313.7 L584.8 315.2 L585.4 310.4 L586.0 301.1 L586.5 296.3 L587.0 297.5 L587.5 300.4 L588.0 302.7 L588.5 309.2 L589.0 310.1 L589.5 316.4 L590.1 321.5 L590.6 325.4 L591.1 328.8 L591.6 331.4 L592.1 327.4 L592.6 319.5 L593.1 312.2 L593.6 309.5 L594.1 302.6 L594.6 302.2 L595.1 301.5 L595.6 298.8 L596.1 296.9 L596.6 298.9 L597.1 299.2 L597.6 295.2 L598.1 296.0 L598.6 295.3 L599.1 293.8 L599.6 295.7 L600.1 295.7 L600.6 294.4 L601.1 297.9 L601.6 297.6 L602.1 298.0 L602.6 303.6 L603.1 307.1 L603.6 305.0 L604.1 308.9 L604.7 305.2 L605.3 300.0 L605.8 297.6 L606.3 298.6 L606.9 305.5 L607.4 308.2 L607.9 310.3 L608.4 315.2 L608.9 311.9 L609.4 311.1 L609.9 311.6 L610.4 310.7 L610.9 308.9 L611.4 303.1 L611.9 299.6 L612.4 298.4 L612.9 292.6 L613.5 300.7 L614.1 312.6 L614.6 314.4 L615.1 313.1 L615.6 316.8 L616.1 318.6 L616.6 318.9 L617.1 321.0 L617.6 325.4 L618.1 325.4 L618.6 327.9 L619.1 332.7 L619.6 332.9 L620.1 330.7 L620.6 330.9 L621.1 327.7 L621.6 325.2 L622.1 321.5 L622.6 319.3 L623.1 318.7 L623.7 317.6 L624.2 317.7 L624.7 317.9 L625.2 316.0 L625.7 313.5 L626.2 312.2 L626.7 310.1 L627.2 317.2 L627.7 320.2 L628.2 325.4 L628.7 329.6 L629.2 335.2 L629.7 331.6 L630.2 327.2 L630.7 323.0 L631.2 314.6 L631.7 310.1 L632.3 301.3 L632.9 295.1 L633.4 297.3 L633.9 296.3 L634.4 294.4 L634.9 296.3 L635.5 303.7 L636.1 311.2 L636.7 322.7 L637.2 325.9 L637.7 333.6 L638.2 341.8 L638.7 346.9 L639.2 352.8 L639.7 345.5 L640.2 339.4 L640.7 333.7 L641.2 328.2 L641.7 320.2 L642.2 327.1 L642.7 331.8 L643.2 335.2 L643.7 338.5 L644.2 345.2 L644.8 347.2 L645.4 352.2 L646.0 352.8 L646.5 363.0 L647.0 366.9 L647.5 375.3 L648.1 371.4 L648.6 365.2 L649.2 360.3 L649.8 368.7 L650.4 382.2 L651.0 390.4 L651.5 392.9 L652.0 399.2 L652.5 402.1 L653.0 404.2 L653.5 399.9 L654.0 397.4 L654.5 395.9 L655.0 390.4 L655.5 388.3 L656.0 386.4 L656.5 383.7 L657.0 382.6 L657.5 382.9 L658.0 384.3 L658.5 387.6 L659.0 387.0 L659.5 390.3 L660.0 390.4 L660.6 390.2 L661.2 385.1 L661.8 382.9 L662.4 390.5 L662.9 394.0 L663.5 401.7 L664.0 398.7 L664.5 396.3 L665.0 395.3 L665.5 390.4 L666.0 393.0 L666.5 391.2 L667.0 393.9 L667.5 392.5 L668.0 395.4 L668.5 393.4 L669.0 388.1 L669.5 384.0 L670.0 380.3 L670.6 377.8 L671.2 373.5 L671.8 367.8 L672.3 366.0 L672.8 365.6 L673.3 360.6 L673.8 357.8 L674.3 357.8 L674.9 365.0 L675.5 369.0 L676.1 375.3 L676.6 379.0 L677.1 381.4 L677.6 383.6 L678.1 387.9 L678.7 395.5 L679.3 407.9 L679.9 413.3 L680.5 419.8 L681.1 423.0 L681.6 423.7 L682.1 426.8 L682.6 427.1 L683.1 430.5 L683.6 428.6 L684.1 426.1 L684.6 421.9 L685.1 421.7 L685.7 424.8 L686.3 426.6 L686.8 425.5 L687.4 424.3 L688.0 424.2 L688.6 420.5 L689.1 426.8 L689.6 428.9 L690.1 435.5" fill="none" stroke="#1f4f9e" stroke-width="1.3" stroke-linejoin="round"/>
<path d="M690.1 410.4 L690.6 410.6 L691.1 413.1 L691.6 414.9 L692.1 414.0 L692.6 412.9 L693.2 419.7 L693.8 427.1 L694.4 430.5 L694.9 431.6 L695.4 433.5 L695.9 434.2 L696.4 439.4 L696.9 440.5 L697.4 441.2 L697.9 435.6 L698.4 433.3 L698.9 430.9 L699.4 430.5 L699.9 432.6 L700.4 434.3 L700.9 431.9 L701.4 434.4 L701.9 435.5 L702.4 433.9 L702.9 427.6 L703.4 423.2 L703.9 419.7 L704.4 418.0 L705.0 425.8 L705.6 430.5 L706.1 438.0 L706.6 432.4 L707.2 427.4 L707.7 427.9 L708.2 423.0 L708.7 419.4 L709.2 416.4 L709.7 416.9 L710.2 412.9 L710.7 410.4 L711.2 412.2 L711.7 413.6 L712.2 410.7 L712.7 413.3 L713.2 412.9 L713.7 411.5 L714.2 409.9 L714.7 406.0 L715.2 404.8 L715.7 405.4 L716.3 403.5 L716.9 403.1 L717.5 403.0 L718.1 403.9 L718.7 402.9 L719.2 405.7 L719.7 406.6 L720.2 409.6 L720.7 412.9 L721.2 416.4 L721.7 420.9 L722.2 424.1 L722.7 425.5 L723.2 429.4 L723.7 431.3 L724.2 433.4 L724.7 436.9 L725.2 438.0 L725.7 435.8 L726.2 436.4 L726.7 436.0 L727.2 434.3 L727.7 430.5 L728.3 423.9 L728.9 416.3 L729.5 412.9 L730.1 415.8 L730.6 424.6 L731.2 428.0 L731.7 434.0 L732.2 438.2 L732.7 439.5 L733.2 440.4 L733.7 445.5 L734.2 444.0 L734.7 443.7 L735.2 439.8 L735.7 435.2 L736.2 435.5 L736.7 432.3 L737.2 432.4 L737.7 429.8 L738.2 430.5 L738.8 426.7 L739.4 428.1 L740.0 425.5 L740.0 428.0 L740.5 433.7 L741.0 435.3 L741.5 439.3 L742.0 444.4 L742.5 445.5 L743.0 440.5 L743.5 436.7 L744.0 430.8 L744.5 427.7 L745.0 425.5 L745.5 421.8 L746.0 421.2 L746.5 418.3 L747.0 414.2 L747.5 412.9 L748.1 409.4 L748.7 407.9 L749.3 406.9 L749.9 405.7 L750.5 407.9 L751.0 420.2 L751.5 437.2 L752.0 450.6 L752.5 452.8 L753.0 451.2 L753.5 451.1 L754.0 454.5 L754.5 455.6 L755.1 454.7 L755.7 448.6 L756.3 445.5 L756.8 447.9 L757.3 450.0 L757.8 450.3 L758.3 450.7 L758.8 450.6 L759.4 444.9 L760.0 438.7 L760.6 430.5 L761.1 431.7 L761.6 426.8 L762.1 426.2 L762.6 425.5 L763.1 424.6 L763.6 423.9 L764.1 421.5 L764.6 423.0 L765.1 429.5 L765.6 432.9 L766.1 436.5 L766.6 442.5 L767.1 448.0 L767.7 443.1 L768.3 436.0 L768.8 430.5 L769.3 433.5 L769.8 436.8 L770.3 441.3 L770.8 443.5 L771.3 445.5 L771.8 442.6 L772.3 436.6 L772.8 435.4 L773.4 428.3 L773.9 425.5 L774.4 421.2 L775.0 419.1 L775.6 415.5 L776.2 407.3 L776.9 400.4" fill="none" stroke="#b7c1de" stroke-width="1.2" stroke-linejoin="round"/>
<rect x="719.3" y="295.1" width="189.7" height="20" fill="#ecf1fa"/>
<text x="721.7" y="310.3" font-family="Liberation Sans, sans-serif" font-size="15.2" font-weight="bold" fill="#1e4a9c" textLength="185.3" lengthAdjust="spacingAndGlyphs">Bitcoin Supply in Profit (%)</text>
<g fill="#9b9b9b"><path d="M790.3 443.3 a5.7 5.7 0 0 0 0 11.4 z"/><circle cx="798.3" cy="449" r="5.7"/></g><path d="M799.3 450.2 L804.6 453.6" stroke="#fff" stroke-width="1.5" fill="none"/>
<text x="809.4" y="454.7" font-family="Liberation Sans, sans-serif" font-size="16" fill="#999" textLength="94.8" lengthAdjust="spacingAndGlyphs">CryptoQuant</text>
<circle cx="27.9" cy="466.3" r="10" fill="#fff" stroke="#e7e8ee" stroke-width="1"/>
<g fill="#2d9ce4"><circle cx="23.7" cy="467.3" r="2.6"/><circle cx="26.6" cy="465" r="3.2"/><circle cx="30.7" cy="466.2" r="2.7"/><circle cx="32.3" cy="467.7" r="2.2"/><rect x="23.5" y="466" width="9" height="3.9"/></g>
<path d="M21.6 468.8 L26.2 464.7 L29.6 468.2 L32.8 464.6" fill="none" stroke="#fff" stroke-width="1.05" stroke-linejoin="round"/>
<text x="950.5" y="103.1" font-family="Liberation Sans, sans-serif" font-size="8.8" font-weight="normal" fill="#222" text-anchor="start" textLength="34" lengthAdjust="spacingAndGlyphs">120000.00</text>
<text x="950.5" y="132.1" font-family="Liberation Sans, sans-serif" font-size="8.8" font-weight="normal" fill="#222" text-anchor="start" textLength="30.2" lengthAdjust="spacingAndGlyphs">80000.00</text>
<text x="950.5" y="174.1" font-family="Liberation Sans, sans-serif" font-size="8.8" font-weight="normal" fill="#222" text-anchor="start" textLength="30.2" lengthAdjust="spacingAndGlyphs">45000.00</text>
<text x="950.5" y="196.1" font-family="Liberation Sans, sans-serif" font-size="8.8" font-weight="normal" fill="#222" text-anchor="start" textLength="30.2" lengthAdjust="spacingAndGlyphs">33000.00</text>
<text x="950.5" y="222.1" font-family="Liberation Sans, sans-serif" font-size="8.8" font-weight="normal" fill="#222" text-anchor="start" textLength="30.2" lengthAdjust="spacingAndGlyphs">23000.00</text>
<text x="950.5" y="244.1" font-family="Liberation Sans, sans-serif" font-size="8.8" font-weight="normal" fill="#222" text-anchor="start" textLength="30.2" lengthAdjust="spacingAndGlyphs">17000.00</text>
<text x="950.5" y="263.6" font-family="Liberation Sans, sans-serif" font-size="8.8" font-weight="normal" fill="#222" text-anchor="start" textLength="30.2" lengthAdjust="spacingAndGlyphs">13000.00</text>
<clipPath id="clipTop"><rect x="945" y="79.3" width="42" height="6"/></clipPath>
<text x="950.5" y="81.7" font-family="Liberation Sans, sans-serif" font-size="8.8" fill="#222" clip-path="url(#clipTop)" textLength="34" lengthAdjust="spacingAndGlyphs">100000.00</text>
<text x="950.5" y="153.2" font-family="Liberation Sans, sans-serif" font-size="8.8" font-weight="normal" fill="#222" text-anchor="start" textLength="30.2" lengthAdjust="spacingAndGlyphs">60000.00</text>
<rect x="945" y="137.7" width="40.2" height="12" fill="#42a5f5"/>
<text x="950.5" y="146.9" font-family="Liberation Sans, sans-serif" font-size="8.8" font-weight="normal" fill="#111" text-anchor="start" textLength="30.2" lengthAdjust="spacingAndGlyphs">65212.00</text>
<line x1="945" x2="948" y1="144" y2="144" stroke="#111" stroke-width="0.8"/>
<text x="950.5" y="296.40000000000003" font-family="Liberation Sans, sans-serif" font-size="8.8" font-weight="normal" fill="#222" text-anchor="start" textLength="22.7" lengthAdjust="spacingAndGlyphs">100.00</text>
<text x="950.5" y="326.3" font-family="Liberation Sans, sans-serif" font-size="8.8" font-weight="normal" fill="#222" text-anchor="start" textLength="19" lengthAdjust="spacingAndGlyphs">90.00</text>
<text x="950.5" y="355.90000000000003" font-family="Liberation Sans, sans-serif" font-size="8.8" font-weight="normal" fill="#222" text-anchor="start" textLength="19" lengthAdjust="spacingAndGlyphs">80.00</text>
<text x="950.5" y="384.70000000000005" font-family="Liberation Sans, sans-serif" font-size="8.8" font-weight="normal" fill="#222" text-anchor="start" textLength="19" lengthAdjust="spacingAndGlyphs">70.00</text>
<text x="950.5" y="414.3" font-family="Liberation Sans, sans-serif" font-size="8.8" font-weight="normal" fill="#222" text-anchor="start" textLength="19" lengthAdjust="spacingAndGlyphs">60.00</text>
<text x="950.5" y="473.70000000000005" font-family="Liberation Sans, sans-serif" font-size="8.8" font-weight="normal" fill="#222" text-anchor="start" textLength="19" lengthAdjust="spacingAndGlyphs">40.00</text>
<text x="950.5" y="443.9" font-family="Liberation Sans, sans-serif" font-size="8.8" font-weight="normal" fill="#222" text-anchor="start" textLength="19" lengthAdjust="spacingAndGlyphs">50.00</text>
<rect x="945" y="431" width="29" height="12.3" fill="#1a48a0"/>
<text x="950.5" y="440.4" font-family="Liberation Sans, sans-serif" font-size="8.8" font-weight="bold" fill="#fff" text-anchor="start" textLength="19.5" lengthAdjust="spacingAndGlyphs">51.22</text>
<line x1="945" x2="948" y1="437.2" y2="437.2" stroke="#fff" stroke-width="0.8"/>
<text x="89" y="494.4" font-family="Liberation Sans, sans-serif" font-size="8.6" font-weight="bold" fill="#1c1c1c" text-anchor="middle" textLength="16.6" lengthAdjust="spacingAndGlyphs">2022</text>
<text x="234" y="494.4" font-family="Liberation Sans, sans-serif" font-size="8.6" font-weight="bold" fill="#1c1c1c" text-anchor="middle" textLength="16.6" lengthAdjust="spacingAndGlyphs">2023</text>
<text x="379" y="494.4" font-family="Liberation Sans, sans-serif" font-size="8.6" font-weight="bold" fill="#1c1c1c" text-anchor="middle" textLength="16.6" lengthAdjust="spacingAndGlyphs">2024</text>
<text x="524" y="494.4" font-family="Liberation Sans, sans-serif" font-size="8.6" font-weight="bold" fill="#1c1c1c" text-anchor="middle" textLength="16.6" lengthAdjust="spacingAndGlyphs">2025</text>
<text x="669" y="494.4" font-family="Liberation Sans, sans-serif" font-size="8.6" font-weight="bold" fill="#1c1c1c" text-anchor="middle" textLength="16.6" lengthAdjust="spacingAndGlyphs">2026</text>
<text x="143.2" y="494.3" font-family="Liberation Sans, sans-serif" font-size="8.2" font-weight="bold" fill="#222" text-anchor="start" textLength="3.9" lengthAdjust="spacingAndGlyphs">6</text>
<g fill="none" stroke="#222" stroke-width="0.8"><ellipse cx="149.5" cy="489.09999999999997" rx="1.5" ry="1.1"/><path d="M147.5 491.0 h4.3 M149.6 491.0 v1.3 M152.89999999999998 487.7 v4.8 M151.5 489.9 h1.4 M148.5 492.9 h4.4 v1.1 h-4.4 v1.1 h4.6"/></g>
<text x="288.2" y="494.3" font-family="Liberation Sans, sans-serif" font-size="8.2" font-weight="bold" fill="#222" text-anchor="start" textLength="3.9" lengthAdjust="spacingAndGlyphs">6</text>
<g fill="none" stroke="#222" stroke-width="0.8"><ellipse cx="294.5" cy="489.09999999999997" rx="1.5" ry="1.1"/><path d="M292.5 491.0 h4.3 M294.59999999999997 491.0 v1.3 M297.9 487.7 v4.8 M296.5 489.9 h1.4 M293.5 492.9 h4.4 v1.1 h-4.4 v1.1 h4.6"/></g>
<text x="433.2" y="494.3" font-family="Liberation Sans, sans-serif" font-size="8.2" font-weight="bold" fill="#222" text-anchor="start" textLength="3.9" lengthAdjust="spacingAndGlyphs">6</text>
<g fill="none" stroke="#222" stroke-width="0.8"><ellipse cx="439.5" cy="489.09999999999997" rx="1.5" ry="1.1"/><path d="M437.5 491.0 h4.3 M439.59999999999997 491.0 v1.3 M442.9 487.7 v4.8 M441.5 489.9 h1.4 M438.5 492.9 h4.4 v1.1 h-4.4 v1.1 h4.6"/></g>
<text x="578.2" y="494.3" font-family="Liberation Sans, sans-serif" font-size="8.2" font-weight="bold" fill="#222" text-anchor="start" textLength="3.9" lengthAdjust="spacingAndGlyphs">6</text>
<g fill="none" stroke="#222" stroke-width="0.8"><ellipse cx="584.5" cy="489.09999999999997" rx="1.5" ry="1.1"/><path d="M582.5 491.0 h4.3 M584.6 491.0 v1.3 M587.9000000000001 487.7 v4.8 M586.5 489.9 h1.4 M583.5 492.9 h4.4 v1.1 h-4.4 v1.1 h4.6"/></g>
<g fill="none" stroke="#333" stroke-width="0.9"><circle cx="967.2" cy="491.4" r="2.9"/><path d="M967.2 486.6v1.6M967.2 494.6v1.6M962.4 491.4h1.6M970.4 491.4h1.6M963.8 488l1.2 1.2M969.4 493.6l1.2 1.2M963.8 494.8l1.2-1.2M969.4 489.2l1.2-1.2"/></g>
<text x="19.5" y="92.2" font-family="Liberation Sans, sans-serif" font-size="9.5" font-weight="normal" fill="#2e2e2e" text-anchor="start" textLength="238.5" lengthAdjust="spacingAndGlyphs">Bitcoin: Price &amp; Volume - Spot, All Exchanges, BTC-USD</text>
<text x="261.5" y="92" font-family="Liberation Sans, sans-serif" font-size="9" font-weight="normal" fill="#555" text-anchor="start">·</text>
<text x="266.3" y="92.2" font-family="Liberation Sans, sans-serif" font-size="9.5" font-weight="normal" fill="#2e2e2e" text-anchor="start" textLength="4.4" lengthAdjust="spacingAndGlyphs">1</text>
<g fill="none" stroke="#333" stroke-width="0.85"><path d="M271.3 84.6 v3.2 h4 M277.3 84.0 v5 M277.3 86.39999999999999 h1.7 M272.1 90.0 h5.4 v1.4 h-5.4 v1.5 h5.8"/></g>
<text x="283" y="92" font-family="Liberation Sans, sans-serif" font-size="9" font-weight="normal" fill="#555" text-anchor="start">·</text>
<text x="288.8" y="92.2" font-family="Liberation Sans, sans-serif" font-size="9.5" font-weight="normal" fill="#2e2e2e" text-anchor="start" textLength="56" lengthAdjust="spacingAndGlyphs">CryptoQuant</text>
<circle cx="359.5" cy="88.3" r="4.4" fill="#d9efec"/><circle cx="359.5" cy="88.3" r="2.3" fill="#089981"/>
<g fill="none" stroke="#4a4a4a" stroke-width="0.85"><path d="M378.4 85.6 L376.4 91.19999999999999 M378.4 87.19999999999999 L380.2 91.19999999999999 M381.79999999999995 85.0 v7"/></g>
<text x="383.6" y="91.9" font-family="Liberation Sans, sans-serif" font-size="8.6" font-weight="normal" fill="#64abe6" text-anchor="start" textLength="30.5" lengthAdjust="spacingAndGlyphs">64101.11</text>
<g fill="none" stroke="#4a4a4a" stroke-width="0.85"><path d="M420.8 86.2 h4.4 v3.2 M423.09999999999997 88.8 v2.6 M420.0 91.6 h6.2"/></g>
<text x="427.2" y="91.9" font-family="Liberation Sans, sans-serif" font-size="8.6" font-weight="normal" fill="#64abe6" text-anchor="start" textLength="30.5" lengthAdjust="spacingAndGlyphs">66353.14</text>
<g fill="none" stroke="#4a4a4a" stroke-width="0.85"><path d="M463.6 86.0 h3.8 M465.6 86.0 L463.6 91.19999999999999 M465.6 87.6 L467.40000000000003 91.19999999999999 M469.20000000000005 85.0 v7 M467.6 88.19999999999999 h1.6"/></g>
<text x="470.8" y="91.9" font-family="Liberation Sans, sans-serif" font-size="8.6" font-weight="normal" fill="#64abe6" text-anchor="start" textLength="31.5" lengthAdjust="spacingAndGlyphs">63948.89</text>
<g fill="none" stroke="#4a4a4a" stroke-width="0.85"><path d="M508.2 85.4 h4.6 M510.5 85.4 L508.1 87.80000000000001 M510.5 86.0 L512.9 87.80000000000001 M510.5 87.80000000000001 v1 M507.5 89.0 h6"/><ellipse cx="510.5" cy="91.0" rx="2" ry="1.2"/></g>
<text x="515" y="91.9" font-family="Liberation Sans, sans-serif" font-size="8.6" font-weight="normal" fill="#64abe6" text-anchor="start" textLength="32" lengthAdjust="spacingAndGlyphs">65212.00</text>
<text x="551.4" y="91.9" font-family="Liberation Sans, sans-serif" font-size="8.6" font-weight="normal" fill="#64abe6" text-anchor="start" textLength="67" lengthAdjust="spacingAndGlyphs">+1111.14 (+1.73%)</text>
<text x="19" y="278.2" font-family="Liberation Sans, sans-serif" font-size="8.6" font-weight="normal" fill="#2e2e2e" text-anchor="start" textLength="170.3" lengthAdjust="spacingAndGlyphs">BITCOIN: SUPPLY IN PROFIT (%), CRYPTOQUANT</text>
<text x="195" y="278.2" font-family="Liberation Sans, sans-serif" font-size="8.4" font-weight="normal" fill="#2a5db0" text-anchor="start" textLength="18.6" lengthAdjust="spacingAndGlyphs">51.22</text>
<text x="218.9" y="278.2" font-family="Liberation Sans, sans-serif" font-size="8.4" font-weight="normal" fill="#2a5db0" text-anchor="start" textLength="53" lengthAdjust="spacingAndGlyphs">−0.43 (−0.83%)</text>
<rect x="44.2" y="594.7" width="919.6999999999999" height="94.09999999999991" fill="#fdf4f4"/>
<line x1="44.2" x2="963.9" y1="594.7" y2="594.7" stroke="#111" stroke-width="1.9" stroke-dasharray="6.3 4.7"/>
<line x1="44.2" x2="963.9" y1="688.8" y2="688.8" stroke="#111" stroke-width="1.9" stroke-dasharray="6.3 4.7"/>
<line x1="44.2" x2="963.9" y1="755.8" y2="755.8" stroke="#111" stroke-width="1.9" stroke-dasharray="6.3 4.7"/>
<line x1="44.2" x2="963.9" y1="822.7" y2="822.7" stroke="#111" stroke-width="1.9" stroke-dasharray="6.3 4.7"/>
<line x1="44.2" x2="963.9" y1="890.6" y2="890.6" stroke="#111" stroke-width="1.9" stroke-dasharray="6.3 4.7"/>
<line x1="44.2" x2="963.9" y1="958.1" y2="958.1" stroke="#111" stroke-width="1.9" stroke-dasharray="6.3 4.7"/>
<line x1="44.2" x2="963.9" y1="1024.6" y2="1024.6" stroke="#111" stroke-width="1.9" stroke-dasharray="6.3 4.7"/>
<line x1="44.2" x2="44.2" y1="594.7" y2="1024.6" stroke="#111" stroke-width="2.3" stroke-dasharray="3.7 3.3"/>
<line x1="189.3" x2="189.3" y1="594.7" y2="1024.6" stroke="#111" stroke-width="2.3" stroke-dasharray="3.7 3.3"/>
<line x1="376.4" x2="376.4" y1="594.7" y2="1024.6" stroke="#111" stroke-width="2.3" stroke-dasharray="3.7 3.3"/>
<line x1="551.9" x2="551.9" y1="594.7" y2="1024.6" stroke="#111" stroke-width="2.3" stroke-dasharray="3.7 3.3"/>
<line x1="745.8" x2="745.8" y1="594.7" y2="1024.6" stroke="#111" stroke-width="2.3" stroke-dasharray="3.7 3.3"/>
<line x1="963.9" x2="963.9" y1="594.7" y2="1024.6" stroke="#111" stroke-width="2.3" stroke-dasharray="3.7 3.3"/>
<path d="M185.3 688.8 h8 M189.3 684.8 v8" stroke="#111" stroke-width="1.9"/>
<path d="M185.3 755.8 h8 M189.3 751.8 v8" stroke="#111" stroke-width="1.9"/>
<path d="M185.3 822.7 h8 M189.3 818.7 v8" stroke="#111" stroke-width="1.9"/>
<path d="M185.3 890.6 h8 M189.3 886.6 v8" stroke="#111" stroke-width="1.9"/>
<path d="M185.3 958.1 h8 M189.3 954.1 v8" stroke="#111" stroke-width="1.9"/>
<path d="M372.4 688.8 h8 M376.4 684.8 v8" stroke="#111" stroke-width="1.9"/>
<path d="M372.4 755.8 h8 M376.4 751.8 v8" stroke="#111" stroke-width="1.9"/>
<path d="M372.4 822.7 h8 M376.4 818.7 v8" stroke="#111" stroke-width="1.9"/>
<path d="M372.4 890.6 h8 M376.4 886.6 v8" stroke="#111" stroke-width="1.9"/>
<path d="M372.4 958.1 h8 M376.4 954.1 v8" stroke="#111" stroke-width="1.9"/>
<path d="M547.9 688.8 h8 M551.9 684.8 v8" stroke="#111" stroke-width="1.9"/>
<path d="M547.9 755.8 h8 M551.9 751.8 v8" stroke="#111" stroke-width="1.9"/>
<path d="M547.9 822.7 h8 M551.9 818.7 v8" stroke="#111" stroke-width="1.9"/>
<path d="M547.9 890.6 h8 M551.9 886.6 v8" stroke="#111" stroke-width="1.9"/>
<path d="M547.9 958.1 h8 M551.9 954.1 v8" stroke="#111" stroke-width="1.9"/>
<path d="M741.8 688.8 h8 M745.8 684.8 v8" stroke="#111" stroke-width="1.9"/>
<path d="M741.8 755.8 h8 M745.8 751.8 v8" stroke="#111" stroke-width="1.9"/>
<path d="M741.8 822.7 h8 M745.8 818.7 v8" stroke="#111" stroke-width="1.9"/>
<path d="M741.8 890.6 h8 M745.8 886.6 v8" stroke="#111" stroke-width="1.9"/>
<path d="M741.8 958.1 h8 M745.8 954.1 v8" stroke="#111" stroke-width="1.9"/>
<text x="73.1" y="651.0" font-family="Liberation Sans, sans-serif" font-size="25.6" font-weight="bold" fill="#0b0b0b" stroke="#0b0b0b" stroke-width="0.25" textLength="88.0" lengthAdjust="spacingAndGlyphs">Cycle</text>
<text x="248.7" y="639.7" font-family="Liberation Sans, sans-serif" font-size="25" font-weight="bold" fill="#0b0b0b" stroke="#0b0b0b" stroke-width="0.25" textLength="72.7" lengthAdjust="spacingAndGlyphs">Time</text>
<text x="203.0" y="664.4" font-family="Liberation Sans, sans-serif" font-size="17.3" font-weight="bold" fill="#0b0b0b" stroke="#0b0b0b" stroke-width="0.08" textLength="159.3" lengthAdjust="spacingAndGlyphs">(Peak/Bottom)</text>
<text x="426.3" y="651.0" font-family="Liberation Sans, sans-serif" font-size="25.6" font-weight="bold" fill="#0b0b0b" stroke="#0b0b0b" stroke-width="0.25" textLength="76.7" lengthAdjust="spacingAndGlyphs">Peak</text>
<text x="592.4" y="651.0" font-family="Liberation Sans, sans-serif" font-size="25.6" font-weight="bold" fill="#0b0b0b" stroke="#0b0b0b" stroke-width="0.25" textLength="114.1" lengthAdjust="spacingAndGlyphs">Bottom</text>
<text x="771.3" y="637.5" font-family="Liberation Sans, sans-serif" font-size="25" font-weight="bold" fill="#0b0b0b" stroke="#0b0b0b" stroke-width="0.25" textLength="168.2" lengthAdjust="spacingAndGlyphs">Drawdown</text>
<text x="814.0" y="663.6" font-family="Liberation Sans, sans-serif" font-size="22.6" font-weight="bold" fill="#0b0b0b" stroke="#0b0b0b" stroke-width="0.25" textLength="83.5" lengthAdjust="spacingAndGlyphs">(MDD)</text>
<text x="94.6" y="729.9" font-family="Liberation Sans, sans-serif" font-size="24.8" font-weight="bold" fill="#0b0b0b" stroke="#0b0b0b" stroke-width="0.25" textLength="47.0" lengthAdjust="spacingAndGlyphs">1st</text>
<text x="220.0" y="727.7" font-family="Liberation Sans, sans-serif" font-size="17.8" font-weight="bold" fill="#0b0b0b" stroke="#0b0b0b" stroke-width="0.08" textLength="122.9" lengthAdjust="spacingAndGlyphs">2011 / 2011</text>
<text x="440.6" y="729.1" font-family="Liberation Sans, sans-serif" font-size="22.6" font-weight="normal" fill="#151515" stroke="#151515" stroke-width="0.22" textLength="47.1" lengthAdjust="spacingAndGlyphs">$32</text>
<text x="633.3" y="729.1" font-family="Liberation Sans, sans-serif" font-size="22.6" font-weight="normal" fill="#151515" stroke="#151515" stroke-width="0.22" textLength="30.7" lengthAdjust="spacingAndGlyphs">$2</text>
<text x="816.7" y="729.9" font-family="Liberation Sans, sans-serif" font-size="22.4" font-weight="bold" fill="#0b0b0b" stroke="#0b0b0b" stroke-width="0.25" textLength="75.7" lengthAdjust="spacingAndGlyphs">-93%</text>
<text x="87.0" y="796.8" font-family="Liberation Sans, sans-serif" font-size="24.8" font-weight="bold" fill="#0b0b0b" stroke="#0b0b0b" stroke-width="0.25" textLength="58.0" lengthAdjust="spacingAndGlyphs">2nd</text>
<text x="218.0" y="794.6" font-family="Liberation Sans, sans-serif" font-size="17.8" font-weight="bold" fill="#0b0b0b" stroke="#0b0b0b" stroke-width="0.08" textLength="128.0" lengthAdjust="spacingAndGlyphs">2013 / 2016</text>
<text x="425.6" y="796.0" font-family="Liberation Sans, sans-serif" font-size="22.6" font-weight="normal" fill="#151515" stroke="#151515" stroke-width="0.22" textLength="75.7" lengthAdjust="spacingAndGlyphs">$1160</text>
<text x="618.0" y="796.0" font-family="Liberation Sans, sans-serif" font-size="22.6" font-weight="normal" fill="#151515" stroke="#151515" stroke-width="0.22" textLength="61.7" lengthAdjust="spacingAndGlyphs">$160</text>
<text x="816.7" y="796.8" font-family="Liberation Sans, sans-serif" font-size="22.4" font-weight="bold" fill="#0b0b0b" stroke="#0b0b0b" stroke-width="0.25" textLength="75.7" lengthAdjust="spacingAndGlyphs">-86%</text>
<text x="91.2" y="863.7" font-family="Liberation Sans, sans-serif" font-size="24.8" font-weight="bold" fill="#0b0b0b" stroke="#0b0b0b" stroke-width="0.25" textLength="50.4" lengthAdjust="spacingAndGlyphs">3rd</text>
<text x="218.0" y="861.5" font-family="Liberation Sans, sans-serif" font-size="17.8" font-weight="bold" fill="#0b0b0b" stroke="#0b0b0b" stroke-width="0.08" textLength="128.0" lengthAdjust="spacingAndGlyphs">2017 / 2018</text>
<text x="421.2" y="862.9" font-family="Liberation Sans, sans-serif" font-size="22.6" font-weight="normal" fill="#151515" stroke="#151515" stroke-width="0.22" textLength="85.2" lengthAdjust="spacingAndGlyphs">$19.8k</text>
<text x="609.8" y="862.9" font-family="Liberation Sans, sans-serif" font-size="22.6" font-weight="normal" fill="#151515" stroke="#151515" stroke-width="0.22" textLength="77.4" lengthAdjust="spacingAndGlyphs">$3150</text>
<text x="816.7" y="863.7" font-family="Liberation Sans, sans-serif" font-size="22.4" font-weight="bold" fill="#0b0b0b" stroke="#0b0b0b" stroke-width="0.25" textLength="75.7" lengthAdjust="spacingAndGlyphs">-84%</text>
<text x="91.2" y="930.8" font-family="Liberation Sans, sans-serif" font-size="24.8" font-weight="bold" fill="#0b0b0b" stroke="#0b0b0b" stroke-width="0.25" textLength="49.4" lengthAdjust="spacingAndGlyphs">4th</text>
<text x="218.0" y="928.6" font-family="Liberation Sans, sans-serif" font-size="17.8" font-weight="bold" fill="#0b0b0b" stroke="#0b0b0b" stroke-width="0.08" textLength="128.0" lengthAdjust="spacingAndGlyphs">2021 / 2022</text>
<text x="433.1" y="930.0" font-family="Liberation Sans, sans-serif" font-size="22.6" font-weight="normal" fill="#151515" stroke="#151515" stroke-width="0.22" textLength="62.4" lengthAdjust="spacingAndGlyphs">$69k</text>
<text x="601.2" y="930.0" font-family="Liberation Sans, sans-serif" font-size="22.6" font-weight="normal" fill="#151515" stroke="#151515" stroke-width="0.22" textLength="94.5" lengthAdjust="spacingAndGlyphs">$15500</text>
<text x="816.7" y="930.8" font-family="Liberation Sans, sans-serif" font-size="22.4" font-weight="bold" fill="#0b0b0b" stroke="#0b0b0b" stroke-width="0.25" textLength="75.7" lengthAdjust="spacingAndGlyphs">-77%</text>
<text x="92.9" y="998.0" font-family="Liberation Sans, sans-serif" font-size="24.8" font-weight="bold" fill="#0b0b0b" stroke="#0b0b0b" stroke-width="0.25" textLength="47.7" lengthAdjust="spacingAndGlyphs">5th</text>
<text x="218.0" y="995.8" font-family="Liberation Sans, sans-serif" font-size="17.8" font-weight="bold" fill="#0b0b0b" stroke="#0b0b0b" stroke-width="0.08" textLength="128.0" lengthAdjust="spacingAndGlyphs">2025 / 2026</text>
<text x="425.3" y="997.2" font-family="Liberation Sans, sans-serif" font-size="22.6" font-weight="normal" fill="#151515" stroke="#151515" stroke-width="0.22" textLength="77.7" lengthAdjust="spacingAndGlyphs">$126k</text>
<text x="580.4" y="998.0" font-family="Liberation Sans, sans-serif" font-size="22.4" font-weight="bold" fill="#dd1c20" stroke="#dd1c20" stroke-width="0.25" textLength="137.4" lengthAdjust="spacingAndGlyphs">$31.5~38k</text>
<text x="788.4" y="998.5" font-family="Liberation Sans, sans-serif" font-size="22.4" font-weight="bold" fill="#dd1c20" stroke="#dd1c20" stroke-width="0.25" textLength="132.0" lengthAdjust="spacingAndGlyphs">-70~75%</text>
<text x="298.5" y="1098.3" font-family="Liberation Sans, sans-serif" font-size="26" font-weight="normal" fill="#111" stroke="#111" stroke-width="0.22" textLength="415.3" lengthAdjust="spacingAndGlyphs">(5th Cycle Data are Estimates)</text>
</svg>
</body></html>
